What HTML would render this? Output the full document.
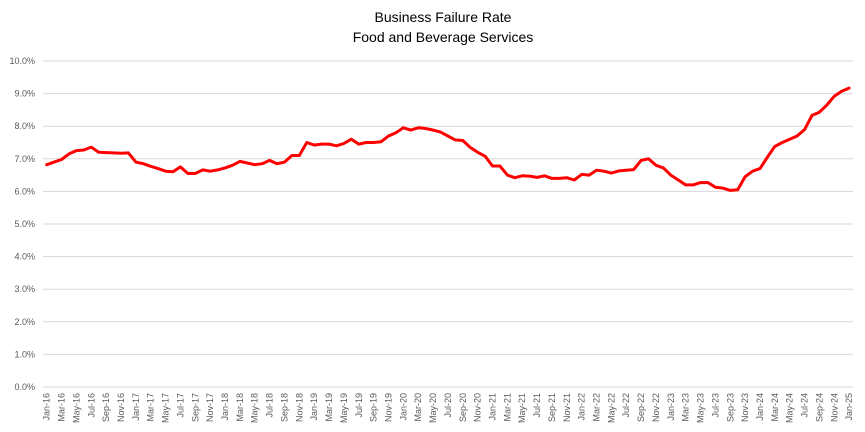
<!DOCTYPE html>
<html><head><meta charset="utf-8"><style>
body{margin:0;background:#fff;}
svg{display:block;font-family:"Liberation Sans",sans-serif;}
</style></head><body>
<svg width="865" height="432" viewBox="0 0 865 432" id="c">
<rect width="865" height="432" fill="#fff"/>
<text x="443" y="22" font-size="14" text-anchor="middle" fill="#000">Business Failure Rate</text>
<text x="443" y="42" font-size="14" text-anchor="middle" fill="#000">Food and Beverage Services</text>
<g id="grid"></g>
<g id="yl" font-size="9" fill="#595959" text-anchor="end"></g>
<g id="xl" font-size="9" fill="#595959" text-anchor="end"></g>
<polyline id="ln" fill="none" stroke="#ff0000" stroke-width="3" stroke-linejoin="round" stroke-linecap="round"/>
</svg>
<script>
var v=[6.82,6.9,6.98,7.15,7.25,7.27,7.36,7.2,7.19,7.18,7.17,7.18,6.9,6.85,6.77,6.7,6.62,6.6,6.75,6.55,6.55,6.66,6.62,6.66,6.72,6.8,6.92,6.87,6.82,6.85,6.95,6.85,6.9,7.1,7.1,7.5,7.42,7.45,7.45,7.4,7.47,7.6,7.45,7.5,7.5,7.52,7.7,7.8,7.95,7.88,7.95,7.93,7.88,7.82,7.7,7.58,7.56,7.35,7.2,7.08,6.78,6.78,6.5,6.42,6.48,6.47,6.43,6.48,6.4,6.4,6.42,6.35,6.52,6.47,6.5,6.65,6.62,6.56,6.63,6.65,6.67,6.95,7.0,6.8,6.72,6.5,6.35,6.2,6.2,6.27,6.27,6.13,6.1,6.03,6.05,6.45,6.62,6.7,7.05,7.38,7.5,7.6,7.7,7.9,8.33,8.43,8.65,8.92,9.07,9.17];
// note: array has one extra early value shift handled below
var ns="http://www.w3.org/2000/svg";
function X(i){return 46.7+7.43*i;}
function Y(p){return 387-32.6*p;}
var g=document.getElementById('grid'),yl=document.getElementById('yl'),xl=document.getElementById('xl');
for(var k=0;k<=10;k++){var l=document.createElementNS(ns,'line');l.setAttribute('x1',43);l.setAttribute('x2',853);l.setAttribute('y1',Y(k));l.setAttribute('y2',Y(k));l.setAttribute('stroke','#d9d9d9');l.setAttribute('stroke-width','1');g.appendChild(l);
var t=document.createElementNS(ns,'text');t.setAttribute('x',35);t.setAttribute('y',Y(k)+3);t.textContent=k.toFixed(1)+'%';yl.appendChild(t);}
var m=['Jan','Mar','May','Jul','Sep','Nov'];
for(var i=0;i<=108;i+=2){var yr=16+Math.floor(i/12);var t=document.createElementNS(ns,'text');var x=X(i)+3;t.setAttribute('transform','translate('+x+',393) rotate(-90)');t.textContent=m[(i%12)/2]+'-'+yr;xl.appendChild(t);}
if(v.length>109)v.splice(73,v.length-109);
var pts=v.map(function(p,i){return X(i).toFixed(1)+','+Y(p).toFixed(1);}).join(' ');
document.getElementById('ln').setAttribute('points',pts);
</script>
</body></html>
